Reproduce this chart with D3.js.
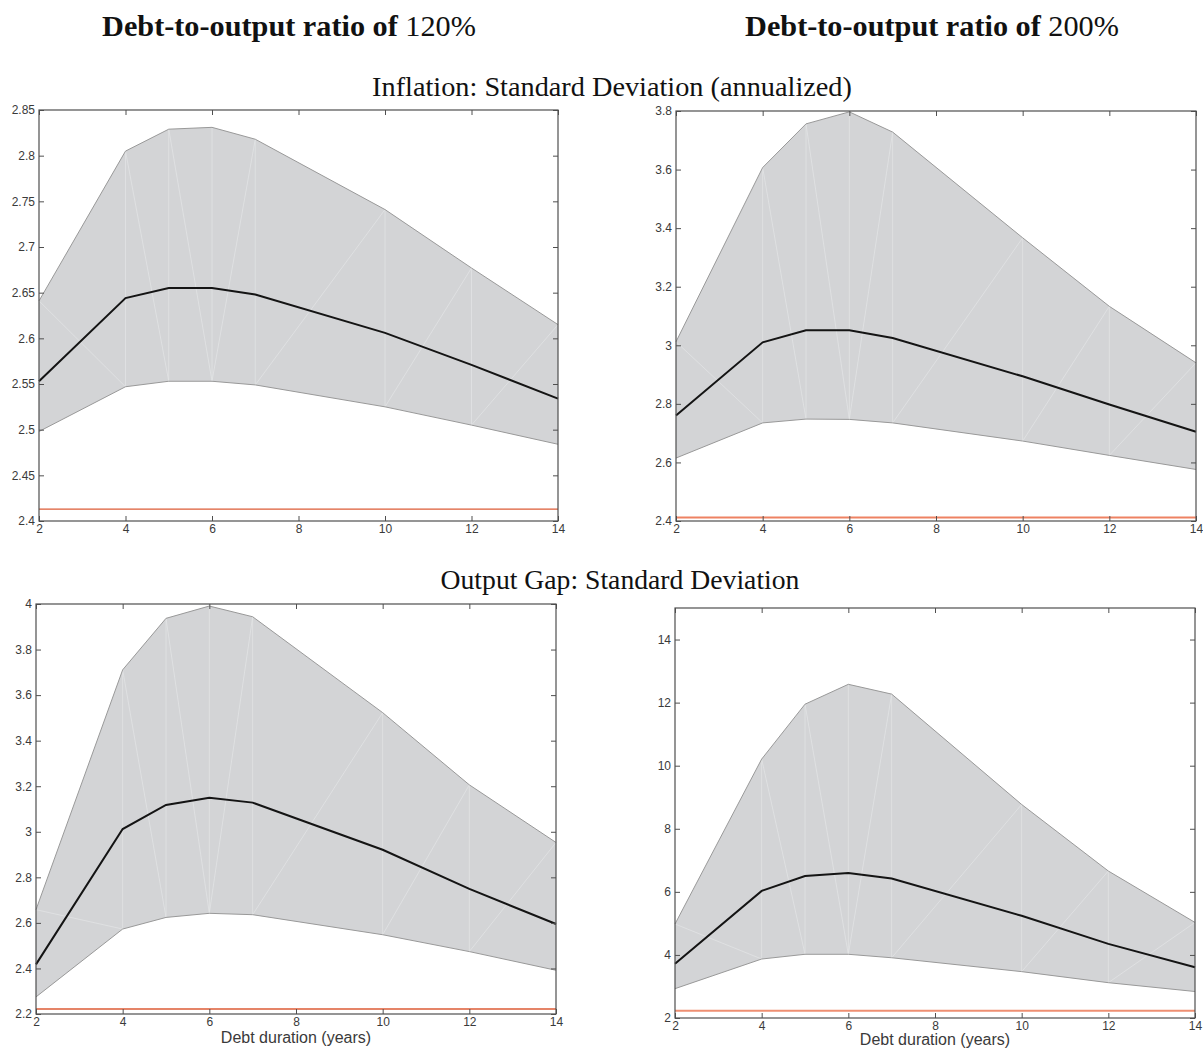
<!DOCTYPE html>
<html>
<head>
<meta charset="utf-8">
<script src="https://cdn.jsdelivr.net/npm/d3@7"></script>
<style>
  body { margin: 0; background: #fff; }
  svg { display: block; }
</style>
</head>
<body>
<svg id="chart" width="1203" height="1051"></svg>
<script>
// debt duration in years (points where the model was solved)
const duration = [2, 4, 5, 6, 7, 10, 12, 14];
const xTicks = [2, 4, 6, 8, 10, 12, 14];

// inflation std, debt/output 120%
const inflHi120  = [2.641, 2.805, 2.829, 2.831, 2.818, 2.741, 2.677, 2.615];
const inflMid120 = [2.553, 2.644, 2.655, 2.655, 2.648, 2.606, 2.571, 2.534];
const inflLo120  = [2.498, 2.547, 2.553, 2.553, 2.549, 2.525, 2.505, 2.484];
const inflBase120 = 2.413;
const inflTicks120 = [2.4, 2.45, 2.5, 2.55, 2.6, 2.65, 2.7, 2.75, 2.8, 2.85];

// inflation std, debt/output 200%
const inflHi200  = [3.012, 3.607, 3.756, 3.797, 3.728, 3.367, 3.133, 2.94];
const inflMid200 = [2.76, 3.01, 3.051, 3.051, 3.025, 2.894, 2.798, 2.705];
const inflLo200  = [2.615, 2.735, 2.748, 2.747, 2.735, 2.673, 2.624, 2.576];
const inflBase200 = 2.412;
const inflTicks200 = [2.4, 2.6, 2.8, 3, 3.2, 3.4, 3.6, 3.8];

// output gap std, debt/output 120%
const gapHi120  = [2.658, 3.711, 3.937, 3.991, 3.944, 3.523, 3.206, 2.953];
const gapMid120 = [2.418, 3.012, 3.118, 3.149, 3.128, 2.921, 2.749, 2.595];
const gapLo120  = [2.275, 2.573, 2.624, 2.642, 2.636, 2.548, 2.474, 2.392];
const gapBase120 = 2.222;
const gapTicks120 = [2.2, 2.4, 2.6, 2.8, 3, 3.2, 3.4, 3.6, 3.8, 4];

// output gap std, debt/output 200%
const gapHi200  = [4.98, 10.21, 11.95, 12.58, 12.27, 8.77, 6.66, 5.03];
const gapMid200 = [3.72, 6.03, 6.5, 6.6, 6.42, 5.24, 4.35, 3.61];
const gapLo200  = [2.93, 3.87, 4.02, 4.02, 3.91, 3.47, 3.12, 2.84];
const gapBase200 = 2.23;
const gapTicks200 = [2, 4, 6, 8, 10, 12, 14];

const svg = d3.select('#chart');

const panels = [
  { hi: inflHi120, mid: inflMid120, lo: inflLo120, base: inflBase120, ticks: inflTicks120,
    yDomain: [2.4, 2.85], left: 39, right: 558, top: 110, bottom: 521, red: '#dc5b36', redW: 1.3 },
  { hi: inflHi200, mid: inflMid200, lo: inflLo200, base: inflBase200, ticks: inflTicks200,
    yDomain: [2.4, 3.8], left: 676, right: 1196, top: 111, bottom: 521, red: '#ee8262', redW: 2 },
  { hi: gapHi120, mid: gapMid120, lo: gapLo120, base: gapBase120, ticks: gapTicks120,
    yDomain: [2.2, 4], left: 36, right: 556, top: 604, bottom: 1014, red: '#dc5b36', redW: 1.3, xlabel: 1043 },
  { hi: gapHi200, mid: gapMid200, lo: gapLo200, base: gapBase200, ticks: gapTicks200,
    yDomain: [2, 15], left: 675, right: 1195, top: 608, bottom: 1018, red: '#ee8f72', redW: 2.2, xlabel: 1045 }
];

function drawPanel(p) {
  const x = d3.scaleLinear().domain([2, 14]).range([p.left, p.right]);
  const y = d3.scaleLinear().domain(p.yDomain).range([p.bottom, p.top]);
  const g = svg.append('g');

  const band = duration.map((d, i) => ({ d: d, hi: p.hi[i], mid: p.mid[i], lo: p.lo[i] }));

  g.append('path')
    .datum(band)
    .attr('d', d3.area().x(d => x(d.d)).y0(d => y(d.lo)).y1(d => y(d.hi)))
    .attr('fill', '#d3d4d6');

  // faint seams left by the triangulated fill
  const peak = d3.maxIndex(p.hi);
  const seams = [];
  band.forEach((b, i) => {
    if (i > 0 && i < band.length - 1) seams.push([[b.d, b.lo], [b.d, b.hi]]);
    if (i < band.length - 1) {
      const n = band[i + 1];
      if (i < peak) seams.push([[b.d, b.hi], [n.d, n.lo]]);
      else seams.push([[b.d, b.lo], [n.d, n.hi]]);
    }
  });
  g.selectAll('.seam')
    .data(seams)
    .enter()
    .append('line')
    .attr('x1', s => x(s[0][0])).attr('y1', s => y(s[0][1]))
    .attr('x2', s => x(s[1][0])).attr('y2', s => y(s[1][1]))
    .attr('stroke', '#e4e5e7')
    .attr('stroke-width', 0.7);

  const edge = key => d3.line().x(d => x(d.d)).y(d => y(d[key]));
  ['hi', 'lo'].forEach(k => {
    g.append('path').datum(band).attr('d', edge(k))
      .attr('fill', 'none').attr('stroke', '#999').attr('stroke-width', 1);
  });

  g.append('path')
    .datum([2, 14])
    .attr('d', d3.line().x(d => x(d)).y(() => y(p.base)))
    .attr('fill', 'none')
    .attr('stroke', p.red)
    .attr('stroke-width', p.redW);

  g.append('path').datum(band).attr('d', edge('mid'))
    .attr('fill', 'none').attr('stroke', '#141414').attr('stroke-width', 2);

  // axes, ticks pointing inward on all four sides
  const axisCol = '#4f4f4f';
  const bottomAxis = g.append('g').attr('transform', `translate(0,${p.bottom})`)
    .call(d3.axisBottom(x).tickValues(xTicks).tickSizeInner(-5).tickSizeOuter(0).tickPadding(3).tickFormat(d3.format('d')));
  const topAxis = g.append('g').attr('transform', `translate(0,${p.top})`)
    .call(d3.axisTop(x).tickValues(xTicks).tickSizeInner(-5).tickSizeOuter(0).tickFormat(''));
  const leftAxis = g.append('g').attr('transform', `translate(${p.left},0)`)
    .call(d3.axisLeft(y).tickValues(p.ticks).tickSizeInner(-5).tickSizeOuter(0).tickPadding(4).tickFormat(d => String(d)));
  const rightAxis = g.append('g').attr('transform', `translate(${p.right},0)`)
    .call(d3.axisRight(y).tickValues(p.ticks).tickSizeInner(-5).tickSizeOuter(0).tickFormat(''));

  [bottomAxis, topAxis, leftAxis, rightAxis].forEach(a => {
    a.select('.domain').remove();
    a.selectAll('line').attr('stroke', axisCol).attr('stroke-width', 1);
    a.selectAll('text')
      .attr('fill', '#3a3a3a')
      .style('font-family', '"Liberation Sans", Arial, sans-serif')
      .style('font-size', '12px');
  });

  g.append('rect')
    .attr('x', p.left).attr('y', p.top)
    .attr('width', p.right - p.left).attr('height', p.bottom - p.top)
    .attr('fill', 'none').attr('stroke', axisCol).attr('stroke-width', 1.2);

  if (p.xlabel) {
    g.append('text')
      .attr('x', (p.left + p.right) / 2)
      .attr('y', p.xlabel)
      .attr('text-anchor', 'middle')
      .attr('fill', '#3a3a3a')
      .style('font-family', '"Liberation Sans", Arial, sans-serif')
      .style('font-size', '16px')
      .text('Debt duration (years)');
  }
}

panels.forEach(drawPanel);

// titles, shrunk or stretched to the width they take in the figure
function fitText(sel, width) {
  const w = sel.node().getComputedTextLength();
  const fs = parseFloat(sel.style('font-size'));
  sel.style('font-size', (fs * width / w).toFixed(2) + 'px');
}

const serif = '"Liberation Serif", "Times New Roman", serif';

[['120%', 289], ['200%', 932]].forEach(([pct, cx]) => {
  const t = svg.append('text')
    .attr('x', cx).attr('y', 36)
    .attr('text-anchor', 'middle')
    .attr('fill', '#111')
    .style('font-family', serif)
    .style('font-size', '22px');
  t.append('tspan').style('font-weight', 'bold').text('Debt-to-output ratio of ');
  t.append('tspan').text(pct);
  fitText(t, 374);
});

const sub1 = svg.append('text')
  .attr('x', 612).attr('y', 96)
  .attr('text-anchor', 'middle')
  .attr('fill', '#111')
  .style('font-family', serif)
  .style('font-size', '22px')
  .text('Inflation: Standard Deviation (annualized)');
fitText(sub1, 480);

const sub2 = svg.append('text')
  .attr('x', 620).attr('y', 589)
  .attr('text-anchor', 'middle')
  .attr('fill', '#111')
  .style('font-family', serif)
  .style('font-size', '22px')
  .text('Output Gap: Standard Deviation');
fitText(sub2, 359);
</script>
</body>
</html>
